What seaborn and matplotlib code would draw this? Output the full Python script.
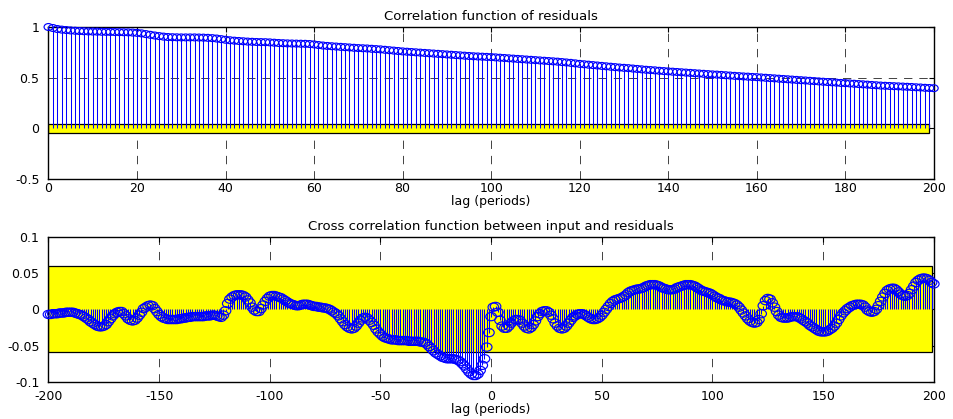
import numpy as np
import matplotlib
matplotlib.use("Agg")
import matplotlib.pyplot as plt
import seaborn as sns
from matplotlib.path import Path
from matplotlib.transforms import Affine2D
from matplotlib.patches import Rectangle

# ---------------- data ----------------
auto_lags = np.arange(0, 201)
auto_corr = [
    1.000, 0.990, 0.980, 0.974, 0.970, 0.966, 0.963, 0.960, 0.958, 0.956,
    0.955, 0.954, 0.953, 0.952, 0.951, 0.950, 0.949, 0.948, 0.947, 0.945,
    0.942, 0.937, 0.930, 0.923, 0.916, 0.910, 0.905, 0.901, 0.899, 0.898,
    0.897, 0.897, 0.897, 0.897, 0.896, 0.895, 0.893, 0.890, 0.886, 0.880,
    0.874, 0.869, 0.865, 0.862, 0.859, 0.856, 0.854, 0.852, 0.851, 0.850,
    0.848, 0.845, 0.842, 0.840, 0.838, 0.837, 0.836, 0.835, 0.834, 0.832,
    0.828, 0.822, 0.817, 0.813, 0.810, 0.807, 0.804, 0.801, 0.798, 0.795,
    0.792, 0.790, 0.788, 0.785, 0.782, 0.779, 0.775, 0.771, 0.767, 0.763,
    0.759, 0.756, 0.753, 0.750, 0.747, 0.744, 0.741, 0.738, 0.735, 0.732,
    0.729, 0.726, 0.723, 0.720, 0.717, 0.714, 0.711, 0.709, 0.707, 0.705,
    0.703, 0.700, 0.697, 0.694, 0.691, 0.688, 0.685, 0.682, 0.679, 0.676,
    0.673, 0.670, 0.667, 0.664, 0.661, 0.658, 0.654, 0.650, 0.646, 0.641,
    0.636, 0.632, 0.628, 0.624, 0.620, 0.616, 0.612, 0.608, 0.604, 0.600,
    0.597, 0.594, 0.590, 0.586, 0.582, 0.578, 0.575, 0.572, 0.568, 0.565,
    0.562, 0.559, 0.556, 0.553, 0.550, 0.547, 0.544, 0.541, 0.538, 0.535,
    0.532, 0.530, 0.527, 0.524, 0.521, 0.518, 0.515, 0.512, 0.510, 0.507,
    0.505, 0.502, 0.499, 0.496, 0.493, 0.490, 0.487, 0.484, 0.481, 0.478,
    0.475, 0.472, 0.469, 0.466, 0.463, 0.460, 0.457, 0.454, 0.451, 0.448,
    0.446, 0.443, 0.440, 0.437, 0.434, 0.431, 0.428, 0.425, 0.422, 0.420,
    0.418, 0.416, 0.414, 0.412, 0.410, 0.408, 0.405, 0.403, 0.400, 0.398,
    0.396,
]

cross_lags = np.arange(-200, 201)
cross_corr = [
    -0.007, -0.007, -0.006, -0.006, -0.006, -0.005, -0.005, -0.005, -0.004, -0.004,
    -0.004, -0.004, -0.005, -0.006, -0.007, -0.008, -0.010, -0.012, -0.014, -0.017,
    -0.019, -0.021, -0.023, -0.024, -0.024, -0.023, -0.021, -0.017, -0.013, -0.009,
    -0.006, -0.004, -0.003, -0.003, -0.006, -0.009, -0.013, -0.015, -0.016, -0.015,
    -0.012, -0.008, -0.004, 0.001, 0.003, 0.005, 0.006, 0.005, 0.001, -0.003,
    -0.007, -0.010, -0.012, -0.013, -0.014, -0.014, -0.014, -0.014, -0.014, -0.013,
    -0.013, -0.012, -0.012, -0.011, -0.011, -0.010, -0.010, -0.010, -0.010, -0.010,
    -0.010, -0.009, -0.009, -0.009, -0.008, -0.008, -0.009, -0.010, -0.011, -0.008,
    -0.002, 0.008, 0.014, 0.017, 0.019, 0.020, 0.020, 0.020, 0.019, 0.017,
    0.013, 0.009, 0.003, -0.001, -0.003, -0.003, 0.001, 0.006, 0.011, 0.015,
    0.018, 0.019, 0.019, 0.018, 0.017, 0.016, 0.014, 0.012, 0.010, 0.008,
    0.007, 0.006, 0.005, 0.005, 0.006, 0.007, 0.007, 0.007, 0.006, 0.005,
    0.004, 0.004, 0.003, 0.003, 0.002, 0.002, 0.001, 0.000, -0.002, -0.004,
    -0.006, -0.009, -0.013, -0.017, -0.021, -0.024, -0.026, -0.027, -0.026, -0.023,
    -0.019, -0.015, -0.012, -0.011, -0.012, -0.015, -0.018, -0.022, -0.027, -0.031,
    -0.034, -0.037, -0.039, -0.040, -0.041, -0.042, -0.042, -0.042, -0.043, -0.043,
    -0.043, -0.043, -0.043, -0.044, -0.044, -0.044, -0.044, -0.044, -0.045, -0.045,
    -0.046, -0.048, -0.051, -0.054, -0.057, -0.060, -0.062, -0.064, -0.066, -0.067,
    -0.068, -0.068, -0.068, -0.068, -0.069, -0.070, -0.072, -0.075, -0.078, -0.082,
    -0.086, -0.089, -0.091, -0.091, -0.089, -0.084, -0.077, -0.068, -0.052, -0.032,
    -0.010, 0.003, 0.004, -0.004, -0.015, -0.023, -0.026, -0.026, -0.023, -0.019,
    -0.016, -0.014, -0.014, -0.015, -0.019, -0.023, -0.026, -0.027, -0.025, -0.021,
    -0.016, -0.010, -0.006, -0.003, -0.002, -0.002, -0.004, -0.008, -0.013, -0.019,
    -0.023, -0.026, -0.027, -0.026, -0.023, -0.019, -0.015, -0.011, -0.009, -0.007,
    -0.006, -0.006, -0.007, -0.009, -0.011, -0.013, -0.014, -0.014, -0.013, -0.011,
    -0.008, -0.004, 0.000, 0.004, 0.008, 0.011, 0.013, 0.014, 0.015, 0.016,
    0.018, 0.020, 0.023, 0.025, 0.026, 0.027, 0.028, 0.028, 0.029, 0.030,
    0.032, 0.033, 0.034, 0.034, 0.034, 0.033, 0.032, 0.030, 0.029, 0.028,
    0.027, 0.027, 0.027, 0.028, 0.030, 0.031, 0.032, 0.033, 0.034, 0.034,
    0.034, 0.033, 0.032, 0.030, 0.028, 0.026, 0.025, 0.024, 0.023, 0.022,
    0.020, 0.018, 0.016, 0.015, 0.013, 0.012, 0.011, 0.010, 0.010, 0.009,
    0.008, 0.006, 0.003, -0.001, -0.005, -0.009, -0.013, -0.016, -0.018, -0.019,
    -0.018, -0.014, -0.006, 0.005, 0.012, 0.015, 0.014, 0.009, 0.003, -0.003,
    -0.008, -0.011, -0.012, -0.012, -0.012, -0.011, -0.010, -0.010, -0.010, -0.011,
    -0.013, -0.015, -0.017, -0.019, -0.022, -0.024, -0.026, -0.028, -0.030, -0.031,
    -0.031, -0.031, -0.030, -0.028, -0.026, -0.023, -0.019, -0.014, -0.009, -0.005,
    -0.002, 0.001, 0.003, 0.005, 0.006, 0.007, 0.007, 0.007, 0.006, 0.003,
    -0.001, -0.003, -0.004, -0.003, 0.000, 0.005, 0.011, 0.017, 0.022, 0.026,
    0.028, 0.029, 0.029, 0.027, 0.024, 0.021, 0.019, 0.018, 0.019, 0.022,
    0.027, 0.032, 0.037, 0.040, 0.042, 0.043, 0.043, 0.042, 0.040, 0.037,
    0.035,
]

auto_conf = 0.043           # confidence band (auto)
auto_band_lags = [0, 199]
cross_conf = 0.059          # confidence band (cross)
cross_band_lags = [-200, 199]

auto_xticks = [0, 20, 40, 60, 80, 100, 120, 140, 160, 180, 200]
auto_yticks = [-0.5, 0, 0.5, 1]
auto_yticklabels = ["-0.5", "0", "0.5", "1"]
cross_xticks = [-200, -150, -100, -50, 0, 50, 100, 150, 200]
cross_yticks = [-0.1, -0.05, 0, 0.05, 0.1]
cross_yticklabels = ["-0.1", "-0.05", "0", "0.05", "0.1"]

title_auto = "Correlation function of residuals"
title_cross = "Cross correlation function between input and residuals"
xlabel = "lag (periods)"

# ---------------- style ----------------
sns.set_theme(style="white")
plt.rcParams["font.family"] = ["DejaVu Sans"]
plt.rcParams["axes.unicode_minus"] = False
plt.rcParams["lines.scale_dashes"] = False

fig = plt.figure(figsize=(9.54, 4.19), dpi=100)
fig.patch.set_facecolor("white")
ax1 = fig.add_axes([0.0508, 0.5728, 0.928, 0.3628])
ax2 = fig.add_axes([0.0508, 0.0883, 0.928, 0.3468])

ellipse = Path.unit_circle().transformed(Affine2D().scale(1.0, 0.78))


def draw_panel(ax, lags, vals, conf, band, xlim, ylim, xticks, yticks, ylabels,
               title, msize, xpad):
    ax.set_facecolor("white")
    ax.set_axisbelow(True)
    ax.grid(True, color="#222222", linestyle=(0, (6, 5)), linewidth=0.6)
    ax.add_patch(Rectangle((band[0], -conf), band[1] - band[0], 2 * conf,
                           facecolor="#FFFF00", edgecolor="black",
                           linewidth=0.9, zorder=1))
    ax.vlines(lags, 0, vals, colors="#0000FF", linewidth=0.75, zorder=2)
    sns.scatterplot(x=lags, y=vals, ax=ax, marker=ellipse, s=msize,
                    color="#0000FF", facecolors="none", edgecolor="#0000FF",
                    linewidth=0.85, zorder=3, clip_on=False, legend=False)
    ax.set_xlim(*xlim)
    ax.set_ylim(*ylim)
    ax.set_xticks(xticks)
    ax.set_xticklabels([str(t) for t in xticks])
    ax.set_yticks(yticks)
    ax.set_yticklabels(ylabels)
    ax.tick_params(direction="in", length=3.5, width=0.8, top=True,
                   right=True, labelsize=9, colors="black")
    ax.tick_params(axis="x", pad=xpad)
    ax.tick_params(axis="y", pad=6.5)
    for sp in ax.spines.values():
        sp.set_visible(True)
        sp.set_color("black")
        sp.set_linewidth(1.0)
    ax.set_title(title, fontsize=9.5, pad=5, color="black")
    ax.set_xlabel(xlabel, fontsize=9, labelpad=0, color="black")
    ax.set_ylabel("")


draw_panel(ax1, auto_lags, auto_corr, auto_conf, auto_band_lags, (0, 200),
           (-0.5, 1), auto_xticks, auto_yticks, auto_yticklabels,
           title_auto, 40, 2.5)
draw_panel(ax2, cross_lags, cross_corr, cross_conf, cross_band_lags,
           (-200, 200), (-0.1, 0.1), cross_xticks, cross_yticks,
           cross_yticklabels, title_cross, 58, 5.8)

fig.savefig("out.png", dpi=100, facecolor="white")
